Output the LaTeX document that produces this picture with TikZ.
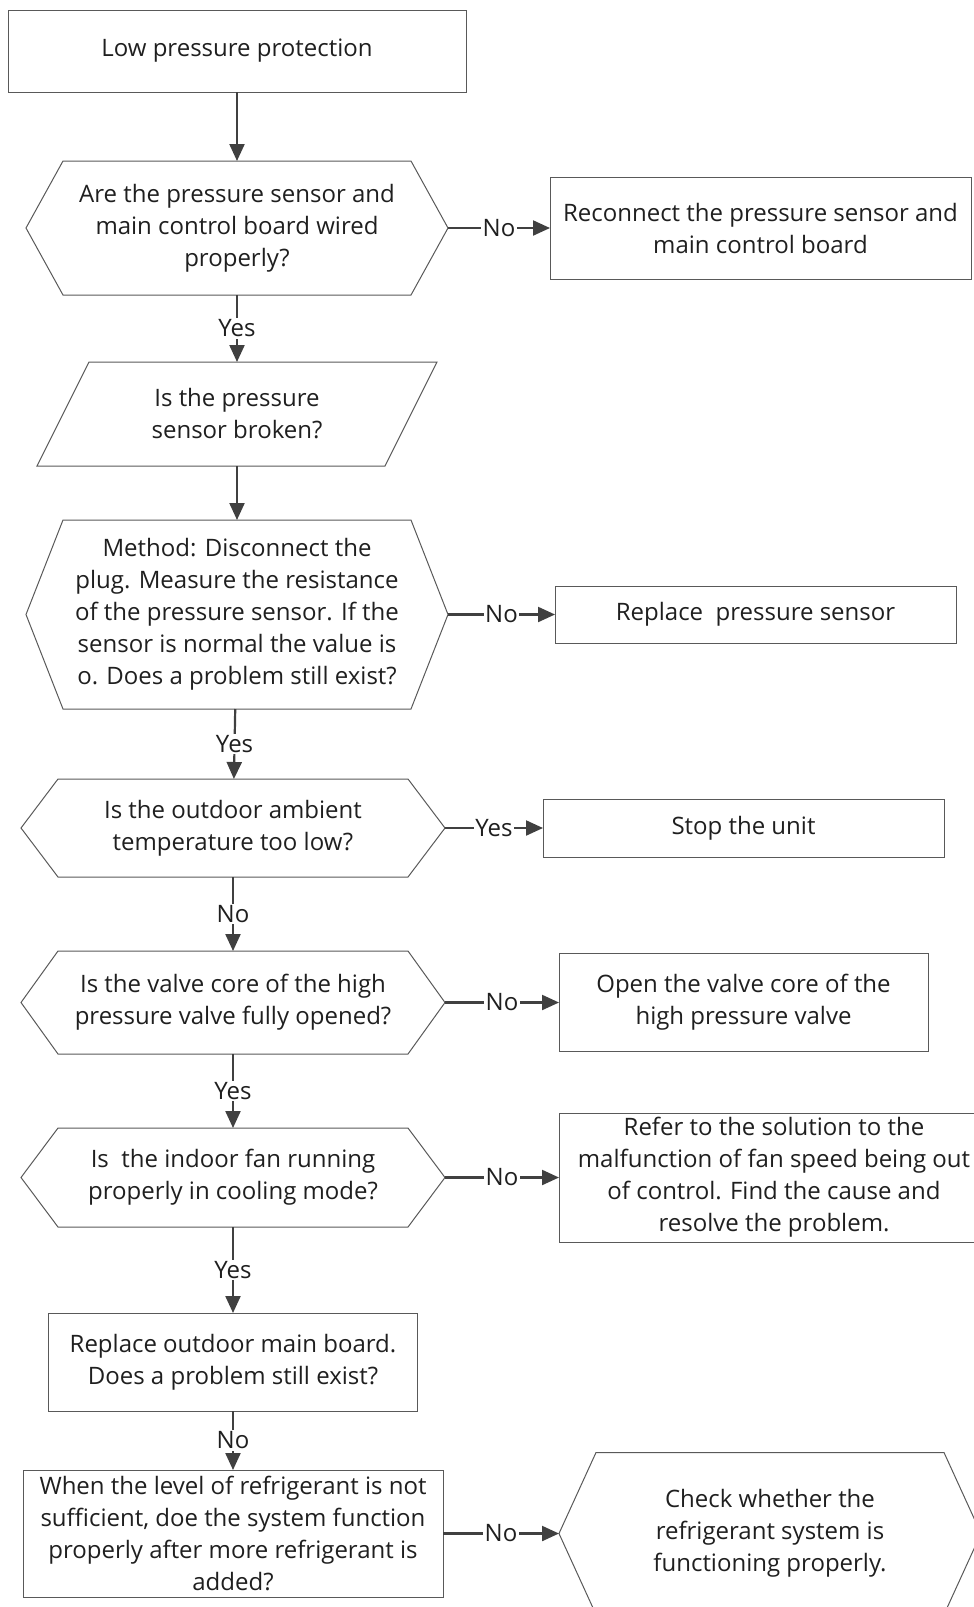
\documentclass[tikz,border=0pt]{standalone}
\usepackage{fontspec}
\setmainfont{Open Sans}
\usetikzlibrary{arrows.meta,positioning}

\definecolor{linegray}{HTML}{404040}
\definecolor{framegray}{HTML}{595959}
\definecolor{textgray}{HTML}{1F1F1F}

\begin{document}
\begin{tikzpicture}[
  x=1pt, y=1pt,
  font=\fontsize{24}{32}\selectfont, text=textgray,
  node distance=60pt and 100pt,
  box/.style={draw=framegray, line width=1pt, align=center, inner sep=0pt, outer sep=0pt},
  hexa/.style={align=center, inner sep=0pt, outer sep=0pt},
  frame/.style={draw=framegray, line width=1pt},
  arrow/.style={-{Triangle[length=17pt,width=15pt]}, line width=2.2pt, draw=linegray},
  lbl/.style={fill=white, inner sep=1.5pt}
]
\useasboundingbox (0,0) rectangle (974,-1607);

% main column
\node[box, minimum width=458pt, minimum height=82pt] (start) at (237,-51) {Low pressure protection};
\node[hexa, minimum width=422pt, minimum height=134pt, below=69pt of start] (wiring)
  {Are the pressure sensor and\\main control board wired\\properly?};
\node[hexa, minimum width=400pt, minimum height=104pt, below=67pt of wiring] (broken)
  {Is the pressure\\sensor broken?};
\node[hexa, minimum width=422pt, minimum height=189pt, below=54pt of broken] (method)
  {Method: Disconnect the\\plug. Measure the resistance\\of the pressure sensor. If the\\sensor is normal the value is\\o. Does a problem still exist?};
\node[hexa, minimum width=424pt, minimum height=98pt, below=70pt of method, xshift=-4pt] (ambient)
  {Is the outdoor ambient\\temperature too low?};
\node[hexa, minimum width=424pt, minimum height=103pt, below=74pt of ambient] (valve)
  {Is the valve core of the high\\pressure valve fully opened?};
\node[hexa, minimum width=424pt, minimum height=99pt, below=74pt of valve] (fan)
  {Is\ \ the indoor fan running\\properly in cooling mode?};
\node[box, minimum width=369pt, minimum height=98pt, below=86pt of fan] (board)
  {Replace outdoor main board.\\Does a problem still exist?};
\node[box, minimum width=420pt, minimum height=127pt, below=59pt of board] (refill)
  {When the level of refrigerant is not\\sufficient, doe the system function\\properly after more refrigerant is\\added?};

% right column
\node[box, minimum width=421pt, minimum height=102pt, right=102pt of wiring] (reconnect)
  {Reconnect the pressure sensor and\\main control board};
\node[box, minimum width=401pt, minimum height=57pt, right=107pt of method] (replace)
  {Replace\ \ pressure sensor};
\node[box, minimum width=401pt, minimum height=58pt, right=98pt of ambient] (stop)
  {Stop the unit};
\node[box, minimum width=369pt, minimum height=98pt, right=114pt of valve] (openvalve)
  {Open the valve core of the\\high pressure valve};
\node[box, minimum width=430pt, minimum height=129pt, right=114pt of fan] (fanspeed)
  {Refer to the solution to the\\malfunction of fan speed being out\\of control. Find the cause and\\resolve the problem.};
\node[hexa, minimum width=422pt, minimum height=162pt, right=116pt of refill] (checksys)
  {Check whether the\\refrigerant system is\\functioning properly.};

% hexagon and parallelogram outlines
\foreach \n in {wiring,method,ambient,valve,fan,checksys}
  \draw[frame] ([xshift=37pt]\n.north west) -- ([xshift=-37pt]\n.north east) -- (\n.east)
    -- ([xshift=-37pt]\n.south east) -- ([xshift=37pt]\n.south west) -- (\n.west) -- cycle;
\draw[frame] ([xshift=52pt]broken.north west) -- (broken.north east)
  -- ([xshift=-52pt]broken.south east) -- (broken.south west) -- cycle;

% connectors
\draw[arrow] (start) -- (wiring);
\draw[arrow] (wiring) -- node[lbl] {Yes} (broken);
\draw[arrow] (broken) -- (method);
\draw[arrow] (method) -- node[lbl] {Yes} (ambient);
\draw[arrow] (ambient) -- node[lbl] {No} (valve);
\draw[arrow] (valve) -- node[lbl] {Yes} (fan);
\draw[arrow] (fan) -- node[lbl] {Yes} (board);
\draw[arrow] (board) -- node[lbl] {No} (refill);
\draw[arrow] (wiring) -- node[lbl] {No} (reconnect);
\draw[arrow] (method) -- node[lbl] {No} (replace);
\draw[arrow] (ambient) -- node[lbl] {Yes} (stop);
\draw[arrow] (valve) -- node[lbl] {No} (openvalve);
\draw[arrow] (fan) -- node[lbl] {No} (fanspeed);
\draw[arrow] (refill) -- node[lbl] {No} (checksys);
\end{tikzpicture}
\end{document}
